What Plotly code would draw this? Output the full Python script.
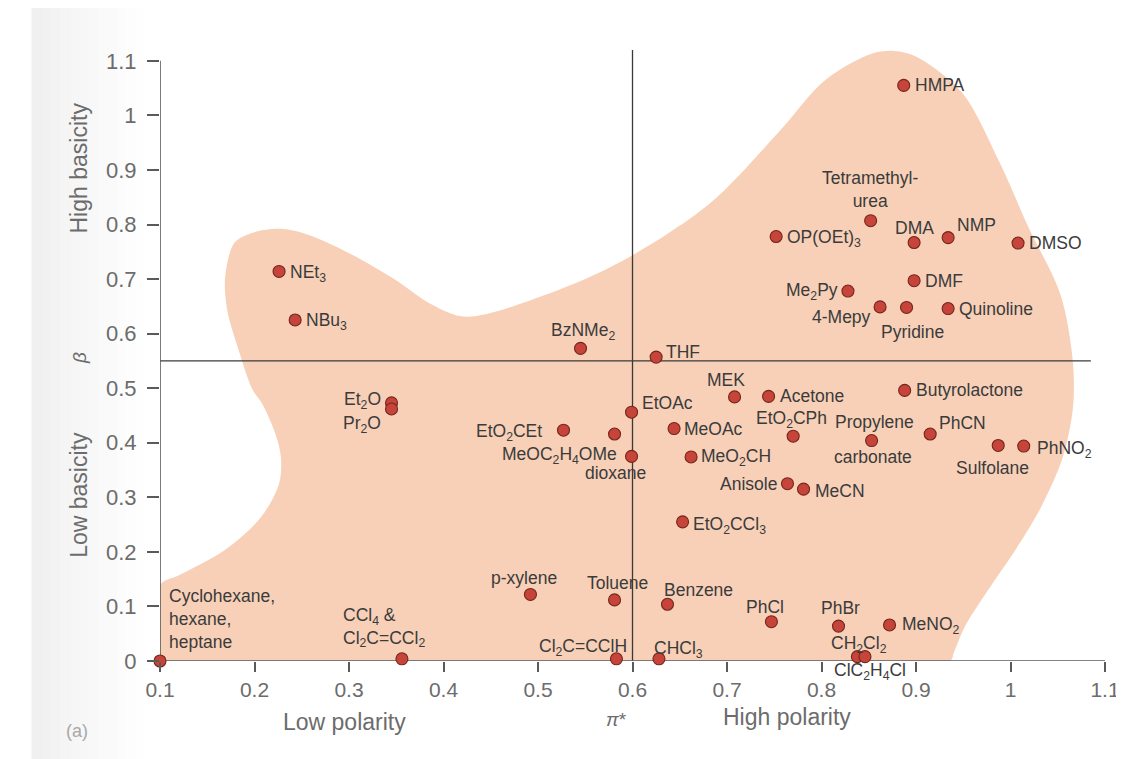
import plotly.graph_objects as go

# ---------------- data (Kamlet-Taft pi* vs beta) ----------------
solvent = [
    "HMPA", "Tetramethylurea", "OP(OEt)3", "DMA", "NMP", "DMSO", "DMF", "Me2Py",
    "4-Mepy", "Pyridine", "Quinoline", "NEt3", "NBu3", "BzNMe2", "THF", "MEK",
    "Acetone", "EtOAc", "EtO2CEt", "MeOC2H4OMe", "MeOAc", "EtO2CPh",
    "Propylene carbonate", "PhCN", "Sulfolane", "PhNO2", "Butyrolactone", "Dioxane",
    "MeO2CH", "Anisole", "MeCN", "EtO2CCl3", "Et2O", "Pr2O", "p-xylene", "Toluene",
    "Benzene", "PhCl", "PhBr", "MeNO2", "CH2Cl2", "ClC2H4Cl", "Cl2C=CClH", "CHCl3",
    "CCl4", "Cyclohexane",
]
pi_star = [
    0.887, 0.852, 0.752, 0.898, 0.934, 1.008, 0.898, 0.828,
    0.862, 0.890, 0.934, 0.226, 0.243, 0.545, 0.625, 0.708,
    0.744, 0.599, 0.527, 0.581, 0.644, 0.770,
    0.853, 0.915, 0.987, 1.014, 0.888, 0.599,
    0.662, 0.764, 0.781, 0.653, 0.345, 0.345, 0.492, 0.581,
    0.637, 0.747, 0.818, 0.872, 0.838, 0.846, 0.583, 0.628,
    0.356, 0.100,
]
beta = [
    1.055, 0.807, 0.778, 0.767, 0.776, 0.766, 0.697, 0.678,
    0.649, 0.648, 0.646, 0.714, 0.625, 0.573, 0.557, 0.484,
    0.485, 0.456, 0.423, 0.416, 0.426, 0.412,
    0.404, 0.416, 0.395, 0.394, 0.496, 0.375,
    0.374, 0.325, 0.315, 0.255, 0.473, 0.462, 0.122, 0.112,
    0.104, 0.072, 0.064, 0.066, 0.008, 0.008, 0.004, 0.004,
    0.004, 0.000,
]
label_text = [
    "HMPA", "Tetramethyl-<br>urea", "OP(OEt)<sub>3</sub>", "DMA", "NMP", "DMSO", "DMF",
    "Me<sub>2</sub>Py", "4-Mepy", "Pyridine", "Quinoline", "NEt<sub>3</sub>", "NBu<sub>3</sub>",
    "BzNMe<sub>2</sub>", "THF", "MEK", "Acetone", "EtOAc", "EtO<sub>2</sub>CEt",
    "MeOC<sub>2</sub>H<sub>4</sub>OMe", "MeOAc", "EtO<sub>2</sub>CPh", "Propylene|carbonate",
    "PhCN", "Sulfolane", "PhNO<sub>2</sub>", "Butyrolactone", "dioxane",
    "MeO<sub>2</sub>CH", "Anisole", "MeCN", "EtO<sub>2</sub>CCl<sub>3</sub>",
    "Et<sub>2</sub>O", "Pr<sub>2</sub>O", "p-xylene", "Toluene", "Benzene", "PhCl", "PhBr",
    "MeNO<sub>2</sub>", "CH<sub>2</sub>Cl<sub>2</sub>", "ClC<sub>2</sub>H<sub>4</sub>Cl",
    "Cl<sub>2</sub>C=CClH", "CHCl<sub>3</sub>", "CCl<sub>4</sub> &<br>Cl<sub>2</sub>C=CCl<sub>2</sub>",
    "Cyclohexane,<br>hexane,<br>heptane",
]

# outline of the shaded solvent region (pi*, beta)
blob_pi = [0.100, 0.936, 0.940, 0.952, 0.979, 1.005, 1.032, 1.055, 1.066, 1.066,
           1.053, 1.019, 0.987, 0.949, 0.901, 0.877, 0.853, 0.804, 0.755, 0.682,
           0.589, 0.511, 0.424, 0.387, 0.346, 0.294, 0.252, 0.228, 0.200, 0.179,
           0.169, 0.171, 0.183, 0.198, 0.208, 0.222, 0.228, 0.226, 0.207, 0.169,
           0.120, 0.100, 0.100]
blob_beta = [0.000, 0.000, 0.015, 0.064, 0.137, 0.203, 0.281, 0.372, 0.463, 0.549,
             0.671, 0.795, 0.919, 1.041, 1.107, 1.118, 1.113, 1.065, 0.970, 0.839,
             0.733, 0.673, 0.631, 0.654, 0.702, 0.753, 0.784, 0.792, 0.786, 0.767,
             0.705, 0.644, 0.571, 0.497, 0.472, 0.417, 0.373, 0.325, 0.264, 0.204,
             0.157, 0.139, 0.000]

x_ticks = [0.1, 0.2, 0.3, 0.4, 0.5, 0.6, 0.7, 0.8, 0.9, 1.0, 1.1]
x_tick_labels = ["0.1", "0.2", "0.3", "0.4", "0.5", "0.6", "0.7", "0.8", "0.9", "1", "1.1"]
y_ticks = [0.0, 0.1, 0.2, 0.3, 0.4, 0.5, 0.6, 0.7, 0.8, 0.9, 1.0, 1.1]
y_tick_labels = ["0", "0.1", "0.2", "0.3", "0.4", "0.5", "0.6", "0.7", "0.8", "0.9", "1", "1.1"]

PI_MIN, PI_MAX = 0.1, 1.1
BETA_MIN, BETA_MAX = 0.0, 1.1
BETA_VIEW_TOP = 1.14
PI_DIVIDER = 0.6          # vertical quadrant line
BETA_DIVIDER = 0.55       # horizontal quadrant line
PI_DIVIDER_END = 1.085
BETA_DIVIDER_TOP = 1.12

# label placement (pixel offsets from the marker: dx, dy(up), xanchor) -- style only
PLACE = {
    "HMPA": [(9, 0, "left")],
    "Tetramethylurea": [(-1, 31, "center")],
    "OP(OEt)3": [(9, -2, "left")],
    "DMA": [(0, 15, "center")],
    "NMP": [(7, 13, "left")],
    "DMSO": [(9, 0, "left")],
    "DMF": [(9, 0, "left")],
    "Me2Py": [(-8, 0, "right")],
    "4-Mepy": [(-7, -10, "right")],
    "Pyridine": [(6, -25, "center")],
    "Quinoline": [(9, 0, "left")],
    "NEt3": [(9, -2, "left")],
    "NBu3": [(9, -2, "left")],
    "BzNMe2": [(2, 17, "center")],
    "THF": [(8, 5, "left")],
    "MEK": [(-9, 17, "center")],
    "Acetone": [(9, 0, "left")],
    "EtOAc": [(8, 9, "left")],
    "EtO2CEt": [(-20, -2, "right")],
    "MeOC2H4OMe": [(4, -21, "right")],
    "MeOAc": [(8, 0, "left")],
    "EtO2CPh": [(-2, 17, "center")],
    "Propylene carbonate": [(3, 19, "center"), (1, -16, "center")],
    "PhCN": [(7, 11, "left")],
    "Sulfolane": [(-6, -23, "center")],
    "PhNO2": [(11, -3, "left")],
    "Butyrolactone": [(9, 0, "left")],
    "Dioxane": [(-16, -17, "center")],
    "MeO2CH": [(8, -1, "left")],
    "Anisole": [(-8, 0, "right")],
    "MeCN": [(9, -2, "left")],
    "EtO2CCl3": [(8, -4, "left")],
    "Et2O": [(-9, 2, "right")],
    "Pr2O": [(-9, -16, "right")],
    "p-xylene": [(-6, 16, "center")],
    "Toluene": [(3, 17, "center")],
    "Benzene": [(31, 14, "center")],
    "PhCl": [(-6, 15, "center")],
    "PhBr": [(2, 18, "center")],
    "MeNO2": [(10, -1, "left")],
    "CH2Cl2": [(2, 12, "center")],
    "ClC2H4Cl": [(5, -15, "center")],
    "Cl2C=CClH": [(13, 11, "right")],
    "CHCl3": [(20, 9, "center")],
    "CCl4": [(-61, 31, "left")],
    "Cyclohexane": [(7, 42, "left")],
}

FONT = "Liberation Sans, Arial, Helvetica, sans-serif"
LABEL_COLOR = "#3b3b3b"
AXIS_TEXT = "#6c6c6c"
LABEL_SIZE = 17.5

fig = go.Figure()

# faint grey scan shading on the left edge
N_STRIPS = 13
for i in range(N_STRIPS):
    x0 = -0.136 + i * 0.01
    fig.add_shape(type="rect", xref="paper", yref="paper", x0=x0, x1=x0 + 0.0101,
                  y0=-0.25, y1=1.06, line_width=0, layer="below",
                  fillcolor=f"rgba(140,140,140,{0.13 * (1 - i / N_STRIPS) ** 1.3:.3f})")

fig.add_trace(go.Scatter(
    x=blob_pi, y=blob_beta, mode="lines", fill="toself",
    fillcolor="#F7D0B7", line=dict(width=0, shape="spline", smoothing=0.9),
    hoverinfo="skip", showlegend=False))

line_style = dict(color="#3a3a3a", width=1.3)
fig.add_trace(go.Scatter(x=[PI_MIN, PI_DIVIDER_END], y=[BETA_DIVIDER, BETA_DIVIDER],
                         mode="lines", line=line_style, hoverinfo="skip", showlegend=False))
fig.add_trace(go.Scatter(x=[PI_DIVIDER, PI_DIVIDER], y=[BETA_MIN, BETA_DIVIDER_TOP],
                         mode="lines", line=line_style, hoverinfo="skip", showlegend=False,
                         cliponaxis=False))

axis_style = dict(color="#5a5a5a", width=1.6)
fig.add_trace(go.Scatter(x=[PI_MIN, PI_MAX], y=[BETA_MIN, BETA_MIN], mode="lines",
                         line=axis_style, hoverinfo="skip", showlegend=False, cliponaxis=False))
fig.add_trace(go.Scatter(x=[PI_MIN, PI_MIN], y=[BETA_MIN, BETA_MAX], mode="lines",
                         line=axis_style, hoverinfo="skip", showlegend=False, cliponaxis=False))

fig.add_trace(go.Scatter(
    x=pi_star, y=beta, mode="markers", text=solvent, hoverinfo="text",
    marker=dict(size=12, color="#C6443A", line=dict(color="#74261C", width=1.1)),
    cliponaxis=False, showlegend=False))

annotations = []
for name, px, by, txt in zip(solvent, pi_star, beta, label_text):
    parts = txt.split("|")
    for part, (dx, dy, xa) in zip(parts, PLACE[name]):
        annotations.append(dict(
            x=px, y=by, xref="x", yref="y", text=part, showarrow=False,
            xanchor=xa, yanchor="middle", xshift=dx, yshift=dy, align=xa,
            font=dict(family=FONT, size=LABEL_SIZE, color=LABEL_COLOR)))

# axis titles, placed in paper coordinates (annotations outside the data range get hidden)
def px_(v):
    return (v - PI_MIN) / (PI_MAX - PI_MIN)

def py_(v):
    return (v - BETA_MIN) / (BETA_VIEW_TOP - BETA_MIN)

title_font = dict(family=FONT, size=23, color=AXIS_TEXT)
centered = dict(xref="paper", yref="paper", showarrow=False, xanchor="center", yanchor="middle")
annotations += [
    dict(x=-0.086, y=py_(0.904), text="High basicity", textangle=-90, font=title_font, **centered),
    dict(x=-0.086, y=py_(0.555), text="<i>β</i>", textangle=-90,
         font=dict(family=FONT, size=19, color=AXIS_TEXT), **centered),
    dict(x=-0.086, y=py_(0.304), text="Low basicity", textangle=-90, font=title_font, **centered),
    dict(x=px_(0.295), y=py_(-0.112), text="Low polarity", font=title_font, **centered),
    dict(x=px_(0.583), y=py_(-0.107), text="<i>π</i>*",
         font=dict(family=FONT, size=19, color=AXIS_TEXT), **centered),
    dict(x=px_(0.763), y=py_(-0.103), text="High polarity", font=title_font, **centered),
    dict(x=px_(0.012), y=py_(-0.128), text="(a)",
         font=dict(family=FONT, size=18, color="#a8a8a8"), **centered),
]

fig.update_layout(
    width=1124, height=759,
    margin=dict(l=152, r=16, t=31, b=106),
    paper_bgcolor="white", plot_bgcolor="rgba(0,0,0,0)",
    font=dict(family=FONT),
    showlegend=False,
    annotations=annotations,
    xaxis=dict(range=[PI_MIN, PI_MAX], tickvals=x_ticks, ticktext=x_tick_labels,
               ticks="outside", ticklen=10, tickwidth=1.5, tickcolor="#5a5a5a",
               showgrid=False, zeroline=False, showline=False,
               tickfont=dict(family=FONT, size=21, color=AXIS_TEXT)),
    yaxis=dict(range=[BETA_MIN, BETA_VIEW_TOP], tickvals=y_ticks, ticktext=y_tick_labels,
               ticks="outside", ticklen=12, tickwidth=1.5, tickcolor="#5a5a5a",
               showgrid=False, zeroline=False, showline=False, ticklabelstandoff=6,
               tickfont=dict(family=FONT, size=22, color=AXIS_TEXT)),
)

fig.write_html("out.html")
